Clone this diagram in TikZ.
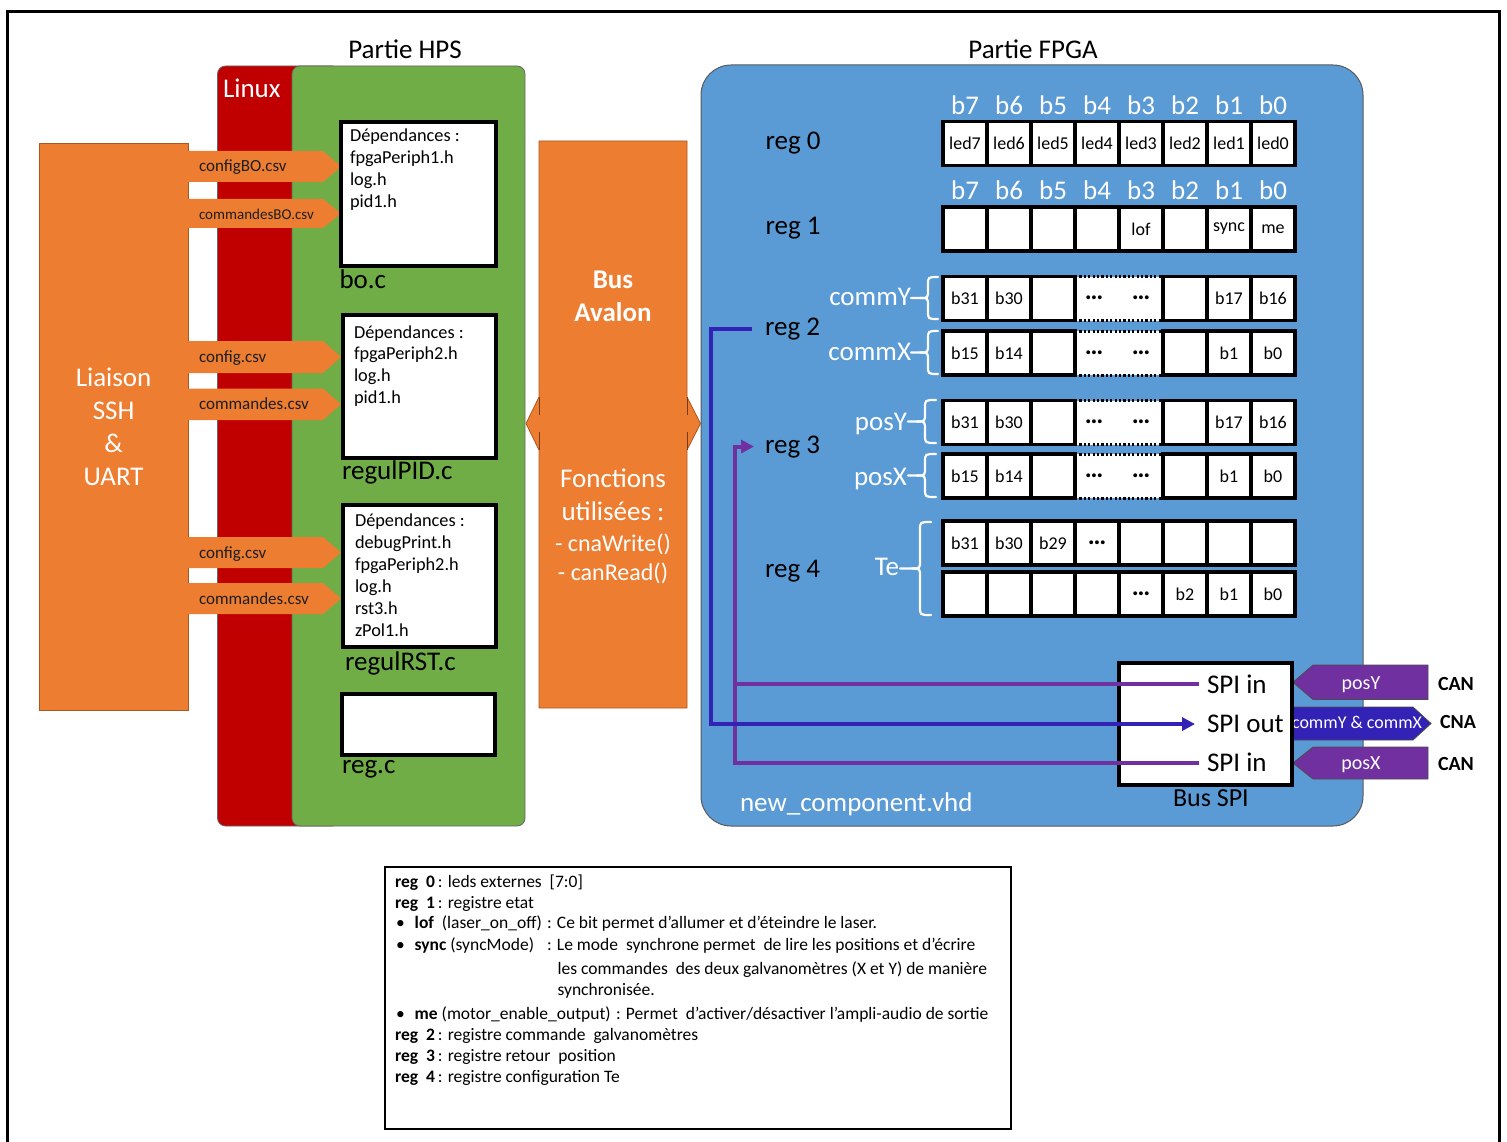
\documentclass[tikz,border=0pt]{standalone}
\usepackage{fontspec}
\setmainfont{Carlito}
\usetikzlibrary{arrows.meta}
\definecolor{orng}{HTML}{ED7D31}
\definecolor{orngdark}{HTML}{A9581F}
\definecolor{linuxred}{HTML}{C00000}
\definecolor{hpsgreen}{HTML}{70AD47}
\definecolor{fpgablue}{HTML}{5B9BD5}
\definecolor{purp}{HTML}{7030A0}
\definecolor{dblue}{HTML}{3222B5}
\definecolor{darktxt}{HTML}{1E1E1E}
\newcommand\fs[2]{\fontsize{#1}{#2}\selectfont}
\newcommand\dts{\raisebox{1.5pt}{\fs{26}{26}\textbf{…}}}
% brace: xtip, xbody, xend, ytop, ybot
\newcommand\mybrace[5]{%
 \draw[bracestyle] (#3,#4) .. controls (#2,#4) .. ({#2},{#4+8}) -- ({#2},{(#4+#5)/2-8}) .. controls ({#2},{(#4+#5)/2}) .. ({#2-8},{(#4+#5)/2}) -- ({#1},{(#4+#5)/2});
 \draw[bracestyle] (#3,#5) .. controls (#2,#5) .. ({#2},{#5-8}) -- ({#2},{(#4+#5)/2+8}) .. controls ({#2},{(#4+#5)/2}) .. ({#2-8},{(#4+#5)/2});
}
% csv arrow: name, ytop, ybot, fontsize, text
\newcommand\csvarrow[5]{%
 \fill[orng] (188,#2) -- (323,#2) -- (341,{(#2+#3)/2}) -- (323,#3) -- (188,#3) -- cycle;
 \node[anchor=base west, text=darktxt, font=\fs{#4}{#4}] (#1) at (199,{(#2+#3)/2+5.5}) {#5};
}
% dotted row: name, y, lab0, lab1, lab6, lab7
\newcommand\dotrow[6]{%
 \node[dcell] (#1d) at (1119,#2) {};
 \node[ctext] (#1e) at (1094,#2) {\dts};
 \node[ctext] (#1f) at (1141,#2) {\dts};
 \draw[dotline] (#1d.north west) -- (#1d.north east) (#1d.south west) -- (#1d.south east);
 \node[cell] (#1c0) at (965,#2) {#3};
 \node[cell] (#1c1) at (1009,#2) {#4};
 \node[cell] (#1c2) at (1053,#2) {};
 \node[cell] (#1c5) at (1185,#2) {};
 \node[cell] (#1c6) at (1229,#2) {#5};
 \node[cell] (#1c7) at (1273,#2) {#6};
}
\begin{document}
\begin{tikzpicture}[x=1pt,y=-1pt,
  every node/.style={inner sep=0pt, outer sep=0pt},
  cell/.style={draw=black, line width=3.2pt, fill=white, minimum width=44pt, minimum height=44pt, font=\fs{18}{20}},
  dcell/.style={fill=white, minimum width=88pt, minimum height=44pt},
  ctext/.style={font=\fs{18}{20}},
  dotline/.style={line width=3pt, dash pattern=on 2.2pt off 2.2pt},
  blab/.style={anchor=base, text=white, font=\fs{27}{27}},
  reglab/.style={anchor=base west, text=black, font=\fs{27}{27}},
  wlab/.style={anchor=base east, text=white, font=\fs{27}{27}},
  bracestyle/.style={draw=white, line width=2.2pt, line cap=round},
  depbox/.style={draw=black, line width=4pt, fill=white, anchor=north west},
  dep/.style={anchor=base west, text=black, font=\fs{18.3}{18.3}},
  fname/.style={anchor=base west, text=black, font=\fs{27}{27}},
  leg/.style={anchor=base west, text=black, font=\fs{17.5}{17.5}},
  purpline/.style={draw=purp, line width=4pt},
  bline/.style={draw=dblue, line width=4pt},
  tip/.style={-{Triangle[length=13pt,width=13pt]}}
]
\useasboundingbox (0,0) rectangle (1507,1142);
% outer frame
\draw[line width=3pt] (7,1142) -- (7,11.5) -- (1499.5,11.5) -- (1499.5,1142);
% titles
\node[anchor=base, font=\fs{27}{27}] (thps) at (405,58.5) {Partie HPS};
\node[anchor=base, font=\fs{27}{27}] (tfpga) at (1033,58.5) {Partie FPGA};
% left box
\node[draw=orngdark, line width=1pt, fill=orng, minimum width=149pt, minimum height=566pt, anchor=north west] (liaison) at (39,144) {};
\foreach \t [count=\i from 0] in {Liaison,SSH,\&,UART}
  \node[anchor=base, text=white, font=\fs{27}{27}] (li\i) at (113.6,{386.8+32.8*\i}) {\t};
% Linux / HPS panels
\draw[fill=linuxred, draw=black!60, line width=0.8pt, rounded corners=8pt] (217.5,66) rectangle (340,826);
\draw[fill=hpsgreen, draw=black!60, line width=0.8pt, rounded corners=8pt] (292,66) rectangle (525,826);
\node[anchor=base west, text=white, font=\fs{27}{27}] (linux) at (223,97.7) {Linux};
% csv arrows
\csvarrow{a1}{151}{182}{17}{configBO.csv}
\csvarrow{a2}{199}{228}{15}{commandesBO.csv}
\csvarrow{a3}{341}{373}{17}{config.csv}
\csvarrow{a4}{388.5}{420}{17}{commandes.csv}
\csvarrow{a5}{537}{568}{17}{config.csv}
\csvarrow{a6}{583}{614}{17}{commandes.csv}
% source boxes
\node[depbox, minimum width=155pt, minimum height=144pt] (bobox) at (341,122) {};
\foreach \t [count=\i from 0] in {Dépendances :,fpgaPeriph1.h,log.h,pid1.h}
  \node[dep] (bo\i) at (350,{141.8+21.8*\i}) {\t};
\node[fname] (boc) at (339.5,288.3) {bo.c};
\node[depbox, minimum width=153pt, minimum height=143.5pt] (pidbox) at (343,314.5) {};
\foreach \t [count=\i from 0] in {Dépendances :,fpgaPeriph2.h,log.h,pid1.h}
  \node[dep] (pid\i) at (354,{338+21.7*\i}) {\t};
\node[fname] (pidc) at (342,479) {regulPID.c};
\node[depbox, minimum width=153pt, minimum height=142.5pt] (rstbox) at (343,504.5) {};
\foreach \t [count=\i from 0] in {Dépendances :,debugPrint.h,fpgaPeriph2.h,log.h,rst3.h,zPol1.h}
  \node[dep] (rst\i) at (355,{526.6+22*\i}) {\t};
\node[fname] (rstc) at (345,670) {regulRST.c};
\node[depbox, minimum width=153pt, minimum height=60.5pt] (regbox) at (342,694) {};
\node[fname] (regc) at (342,773.5) {reg.c};
% Bus Avalon
\draw[fill=orng, draw=orngdark, line width=0.8pt] (539,141) -- (687,141) -- (687,397) -- (700.5,423.5) -- (687,450) -- (687,708) -- (539,708) -- (539,450) -- (526,423.5) -- (539,397) -- cycle;
\draw[orngdark!70!black, line width=1pt] (539,397) -- (539,415) (539,432) -- (539,450) (687,397) -- (687,415) (687,432) -- (687,450);
\node[anchor=base, text=white, font=\bfseries\fs{27}{27}] (bus1) at (613,288) {Bus};
\node[anchor=base, text=white, font=\bfseries\fs{27}{27}] (bus2) at (613,321.7) {Avalon};
\node[anchor=base, text=white, font=\fs{27}{27}] (fn1) at (613,487) {Fonctions};
\node[anchor=base, text=white, font=\fs{27}{27}] (fn2) at (613,520) {utilisées :};
\node[anchor=base, text=white, font=\fs{24}{24}] (fn3) at (613,551) {- cnaWrite()};
\node[anchor=base, text=white, font=\fs{24}{24}] (fn4) at (613,580) {- canRead()};
% FPGA panel
\draw[fill=fpgablue, draw=black!65, line width=1pt, rounded corners=30pt] (701,65) rectangle (1363,826);
\node[reglab] (reg0) at (765.5,150) {reg 0};
\node[reglab] (reg1) at (765.5,235) {reg 1};
\node[reglab] (reg2) at (765,335) {reg 2};
\node[reglab] (reg3) at (765,453) {reg 3};
\node[reglab] (reg4) at (765,577) {reg 4};
\foreach \t [count=\i from 0] in {b7,b6,b5,b4,b3,b2,b1,b0} {
  \node[blab] (hz\i) at ({965+44*\i},115) {\t};
  \node[blab] (hu\i) at ({965+44*\i},200) {\t};
}
\foreach \t [count=\i from 0] in {led7,led6,led5,led4,led3,led2,led1,led0}
  \node[cell] (rz\i) at ({965+44*\i},143.5) {\t};
\foreach \t [count=\i from 0] in {{},{},{},{},lof,{},sync,me}
  \node[cell] (ru\i) at ({965+44*\i},229) {\t};
\dotrow{cy}{298.5}{b31}{b30}{b17}{b16}
\dotrow{cx}{353}{b15}{b14}{b1}{b0}
\dotrow{py}{422.5}{b31}{b30}{b17}{b16}
\dotrow{px}{476}{b15}{b14}{b1}{b0}
\foreach \t [count=\i from 0] in {b31,b30,b29,\dts,{},{},{},{}}
  \node[cell] (ta\i) at ({965+44*\i},543) {\t};
\foreach \t [count=\i from 0] in {{},{},{},{},\dts,b2,b1,b0}
  \node[cell] (tb\i) at ({965+44*\i},594) {\t};
% braces and labels
\node[wlab] (commy) at (911,305) {commY};
\node[wlab] (commx) at (911,360) {commX};
\node[wlab] (posy) at (907,430) {posY};
\node[wlab] (posx) at (907,485) {posX};
\node[wlab] (te) at (899,575) {Te};
\mybrace{911}{928}{938}{277}{319}
\mybrace{911}{928}{938}{331}{374}
\mybrace{908}{925}{936}{400}{443}
\mybrace{900}{920}{931}{522}{615}
\mybrace{908}{925}{936}{454}{497}
\node[anchor=base west, text=white, font=\fs{27}{27}] (vhd) at (740,811.7) {new\_component.vhd};
% right side signals
\draw[fill=purp, draw=black!70, line width=0.8pt] (1313,665) -- (1428,665) -- (1428,699.5) -- (1313,699.5) -- (1293,682.3) -- cycle;
\node[anchor=base, text=white, font=\fs{20}{20}] (sigy) at (1361,689.5) {posY};
\draw[fill=dblue, draw=black!70, line width=0.8pt] (1290,707) -- (1413,707) -- (1431,723.5) -- (1413,740) -- (1290,740) -- cycle;
\node[anchor=base, text=white, font=\fs{18}{18}] (sigc) at (1357,728.5) {commY \& commX};
\draw[fill=purp, draw=black!70, line width=0.8pt] (1313,747) -- (1428,747) -- (1428,779) -- (1313,779) -- (1293,763) -- cycle;
\node[anchor=base, text=white, font=\fs{20}{20}] (sigx) at (1361,769.5) {posX};
\node[anchor=base west, font=\bfseries\fs{20}{20}] (can1) at (1438,690) {CAN};
\node[anchor=base west, font=\bfseries\fs{20}{20}] (cna) at (1440,728.5) {CNA};
\node[anchor=base west, font=\bfseries\fs{20}{20}] (can2) at (1438,770) {CAN};
% SPI box
\node[draw=black, line width=4pt, fill=white, minimum width=173pt, minimum height=122pt, anchor=north west] (spibox) at (1119,663) {};
\node[anchor=base west, font=\fs{27}{27}] (spiin1) at (1207,693) {SPI in};
\node[anchor=base west, font=\fs{27}{27}] (spiout) at (1207,732.7) {SPI out};
\node[anchor=base west, font=\fs{27}{27}] (spiin2) at (1207,771.7) {SPI in};
\node[anchor=base west, font=\fs{26}{26}] (busspi) at (1173,806.7) {Bus SPI};
% connectors
\coordinate (pvx) at (734.5,0);
\coordinate (bvx) at (711,0);
\draw[purpline] ([xshift=-8pt]spiin1.west) -- (pvx |- spiin1.west);
\draw[purpline, tip] ([xshift=-8pt]spiin2.west) -| (pvx |- reg3.west) -- ([xshift=-11pt]reg3.west);
\draw[bline, tip] ([xshift=-13pt]reg2.west) -| (bvx |- spiout.west) -- ([xshift=-12pt]spiout.west);
% legend
\node[draw=black, line width=1.2pt, minimum width=626pt, minimum height=262pt, anchor=north west] (legend) at (385,867) {};
\node[leg] (lg0) at (395,887.3) {\textbf{reg\ \ 0}\,: leds externes\ \ [7:0]};
\node[leg] (lg1) at (395,908.3) {\textbf{reg\ \ 1}\,: registre etat};
\node[leg] (lb1) at (396,928) {•};
\node[leg] (lg2) at (414.7,928) {\textbf{lof}\ \ (laser\_on\_off)};
\node[leg] (lg2b) at (547,928) {: Ce bit permet\ d’allumer et d’éteindre le laser.};
\node[leg] (lb2) at (396,950.7) {•};
\node[leg] (lg3) at (414.7,950.7) {\textbf{sync} (syncMode)};
\node[leg] (lg3b) at (547,950.7) {: Le mode\ \ synchrone permet\ \ de lire les positions et d’écrire};
\node[leg] (lg4) at (557.6,974) {les commandes\ \ des deux galvanomètres (X et Y) de manière};
\node[leg] (lg5) at (557.6,995.7) {synchronisée.};
\node[leg] (lb3) at (396,1019) {•};
\node[leg] (lg6) at (414.7,1019) {\textbf{me} (motor\_enable\_output)};
\node[leg] (lg6b) at (616,1019) {: Permet\ \ d’activer/désactiver l’ampli-audio de sortie};
\node[leg] (lg7) at (395,1040.7) {\textbf{reg\ \ 2}\,: registre commande\ \ galvanomètres};
\node[leg] (lg8) at (395,1061.7) {\textbf{reg\ \ 3}\,: registre retour\ \ position};
\node[leg] (lg9) at (395,1082.7) {\textbf{reg\ \ 4}\,: registre configuration Te};
\end{tikzpicture}
\end{document}
